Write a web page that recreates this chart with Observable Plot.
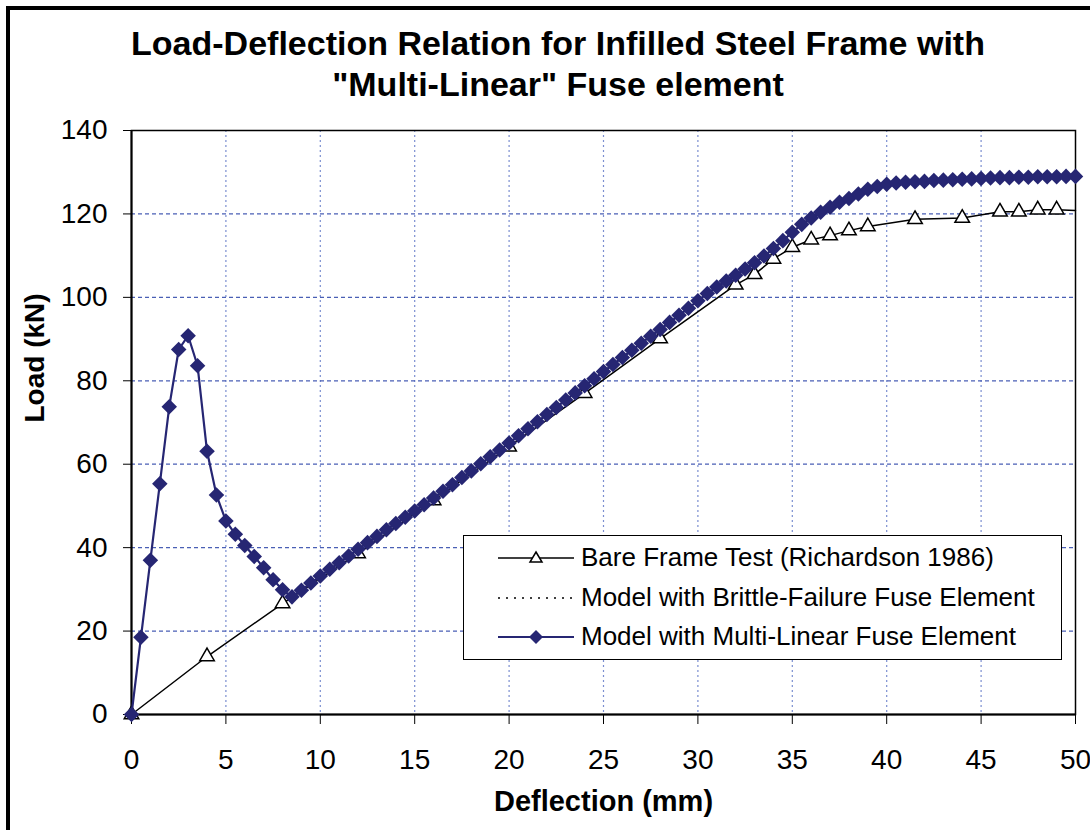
<!DOCTYPE html>
<html>
<head>
<meta charset="utf-8">
<script src="https://cdn.jsdelivr.net/npm/d3@7"></script>
<script src="https://cdn.jsdelivr.net/npm/@observablehq/plot@0.6"></script>
<style>
  body { margin: 0; background: #fff; font-family: "Liberation Sans", Arial, sans-serif; }
  #wrap { position: relative; width: 1090px; height: 830px; overflow: hidden; background: #fff; }
  #title { position: absolute; left: 58px; top: 23px; width: 1000px; text-align: center;
           font-weight: bold; font-size: 34px; line-height: 41px; color: #000; }
  #chart { position: absolute; left: 0; top: 120px; }
  #legend { position: absolute; left: 463px; top: 535px; width: 599px; height: 125px;
            box-sizing: border-box; border: 1px solid #000; background: #fff; }
  .row { position: absolute; left: 0; height: 40px; width: 100%; }
  .row svg { position: absolute; left: 30px; top: 8px; }
  .row span { position: absolute; left: 117px; top: 4px; font-size: 26px; line-height: 30px; color: #000; white-space: nowrap; }
</style>
</head>
<body>
<div id="wrap">
  <div style="position:absolute;left:6px;top:6px;width:1084px;height:4px;background:#000"></div>
  <div style="position:absolute;left:6px;top:6px;width:4px;height:824px;background:#000"></div>
  <div id="title">Load-Deflection Relation for Infilled Steel Frame with<br>"Multi-Linear" Fuse element</div>
  <div id="chart"></div>
  <div id="legend"></div>
</div>
<script>
// ---- data ----
const xTicks = [0, 5, 10, 15, 20, 25, 30, 35, 40, 45, 50];
const yTicks = [0, 20, 40, 60, 80, 100, 120, 140];
const xLabel = "Deflection (mm)";
const yLabel = "Load (kN)";
const seriesNames = [
  "Bare Frame Test (Richardson 1986)",
  "Model with Brittle-Failure Fuse Element",
  "Model with Multi-Linear Fuse Element"
];

// Bare frame test (Richardson 1986)
const bareX = [0, 4, 8, 12, 16, 20, 24, 28, 32, 33, 34, 35, 36, 37, 38, 39, 41.5, 44, 46, 47, 48, 49, 50];
const bareY = [0, 13.9, 26.6, 38.6, 51.3, 64.2, 77.0, 90.1, 103.0, 105.5, 109.2, 112.0, 113.8, 114.8, 116.0, 117.0, 118.7, 119.0, 120.5, 120.5, 121.0, 121.0, 120.8];

// Model with multi-linear fuse element
const multiX = [0, 0.5, 1, 1.5, 2, 2.5, 3, 3.5, 4, 4.5, 5, 5.5, 6, 6.5, 7, 7.5, 8, 8.5, 9, 9.5,
  10, 10.5, 11, 11.5, 12, 12.5, 13, 13.5, 14, 14.5, 15, 15.5, 16, 16.5, 17, 17.5, 18, 18.5, 19, 19.5,
  20, 20.5, 21, 21.5, 22, 22.5, 23, 23.5, 24, 24.5, 25, 25.5, 26, 26.5, 27, 27.5, 28, 28.5, 29, 29.5,
  30, 30.5, 31, 31.5, 32, 32.5, 33, 33.5, 34, 34.5, 35, 35.5, 36, 36.5, 37, 37.5, 38, 38.5, 39, 39.5,
  40, 40.5, 41, 41.5, 42, 42.5, 43, 43.5, 44, 44.5, 45, 45.5, 46, 46.5, 47, 47.5, 48, 48.5, 49, 49.5, 50];
const multiY = [0, 18.5, 37.0, 55.3, 73.8, 87.5, 90.8, 83.6, 63.1, 52.6, 46.4, 43.2, 40.5, 37.9, 35.2, 32.3, 29.9, 28.2, 29.8, 31.5,
  33.2, 34.8, 36.4, 38.0, 39.6, 41.2, 42.7, 44.3, 45.8, 47.3, 48.8, 50.3, 51.9, 53.5, 55.1, 56.8, 58.4, 60.1, 61.8, 63.4,
  65.1, 66.8, 68.5, 70.2, 71.9, 73.6, 75.4, 77.1, 78.8, 80.5, 82.2, 83.9, 85.6, 87.3, 89.0, 90.7, 92.3, 94.0, 95.7, 97.4,
  99.2, 100.9, 102.5, 103.9, 105.3, 106.8, 108.3, 109.9, 111.7, 113.6, 115.6, 117.5, 119.0, 120.4, 121.6, 122.8, 123.7, 124.8, 125.9, 126.6,
  127.1, 127.4, 127.6, 127.7, 127.8, 128.0, 128.1, 128.2, 128.3, 128.4, 128.5, 128.6, 128.7, 128.7, 128.8, 128.8, 128.9, 128.9, 128.9, 129.0, 129.0];

// Model with brittle-failure fuse element: after the fuse fails it follows the
// same path as the multi-linear model and is hidden beneath it in the picture.
const brittleStart = 8.5;

const bare = bareX.map((x, i) => ({x, y: bareY[i]}));
const multi = multiX.map((x, i) => ({x, y: multiY[i]}));
const brittle = multi.filter(d => d.x >= brittleStart);

const NAVY = "#262673";

const chart = Plot.plot({
  width: 1090,
  height: 710,
  marginTop: 10,
  marginBottom: 116,
  marginLeft: 131,
  marginRight: 15,
  style: {fontFamily: "Liberation Sans, Arial, sans-serif", fontSize: "28px", background: "transparent", color: "#000", overflow: "visible"},
  x: {domain: [0, 50]},
  y: {domain: [0, 140]},
  marks: [
    Plot.gridX(xTicks.slice(1, -1), {stroke: "#7b8ed0", strokeOpacity: 1, strokeWidth: 1.2, strokeDasharray: "2,3"}),
    Plot.gridY(yTicks.slice(1, -1), {stroke: "#4a5fb5", strokeOpacity: 1, strokeWidth: 1.2, strokeDasharray: "4,3"}),
    Plot.frame({stroke: "#000", strokeWidth: 1.5}),
    Plot.ruleX([0], {stroke: "#000", strokeWidth: 2}),
    Plot.ruleY([0], {stroke: "#000", strokeWidth: 2}),
    Plot.axisX(xTicks, {tickSize: 10, tickPadding: 25, label: null, stroke: "#000"}),
    Plot.axisY(yTicks, {tickSize: 8, tickPadding: 16, label: null, stroke: "#000"}),
    Plot.text([xLabel], {frameAnchor: "bottom", dy: 96, fontSize: 29, fontWeight: "bold", fill: "#000"}),
    Plot.text([yLabel], {frameAnchor: "left", dx: -96, rotate: -90, fontSize: 28, fontWeight: "bold", fill: "#000"}),
    // bare frame
    Plot.line(bare, {x: "x", y: "y", stroke: "#000", strokeWidth: 1.5}),
    Plot.dot(bare.slice(0, -1), {x: "x", y: "y", symbol: "triangle", r: 5.4, fill: "#fff", stroke: "#000", strokeWidth: 1.5}),
    // brittle-failure model
    Plot.line(brittle, {x: "x", y: "y", stroke: "#000", strokeWidth: 1.5, strokeDasharray: "2,4"}),
    // multi-linear model
    Plot.line(multi, {x: "x", y: "y", stroke: NAVY, strokeWidth: 2.2}),
    Plot.dot(multi, {x: "x", y: "y", symbol: "diamond2", r: 7, fill: NAVY, stroke: "none"})
  ]
});
document.getElementById("chart").appendChild(chart);

// ---- legend ----
const legend = document.getElementById("legend");
const rowTops = [2, 42, 81];
const samples = [
  `<line x1="4" y1="12" x2="80" y2="12" stroke="#000" stroke-width="1.5"/><path d="M42,6 L48,16 L36,16 Z" fill="#fff" stroke="#000" stroke-width="1.5"/>`,
  `<line x1="4" y1="12" x2="80" y2="12" stroke="#000" stroke-width="1.5" stroke-dasharray="2,6"/>`,
  `<line x1="4" y1="12" x2="80" y2="12" stroke="${NAVY}" stroke-width="2"/><path d="M42,5 L49,12 L42,19 L35,12 Z" fill="${NAVY}"/>`
];
seriesNames.forEach((name, i) => {
  const row = document.createElement("div");
  row.className = "row";
  row.style.top = rowTops[i] + "px";
  row.innerHTML = `<svg width="84" height="24">${samples[i]}</svg><span>${name}</span>`;
  legend.appendChild(row);
});
</script>
</body>
</html>
